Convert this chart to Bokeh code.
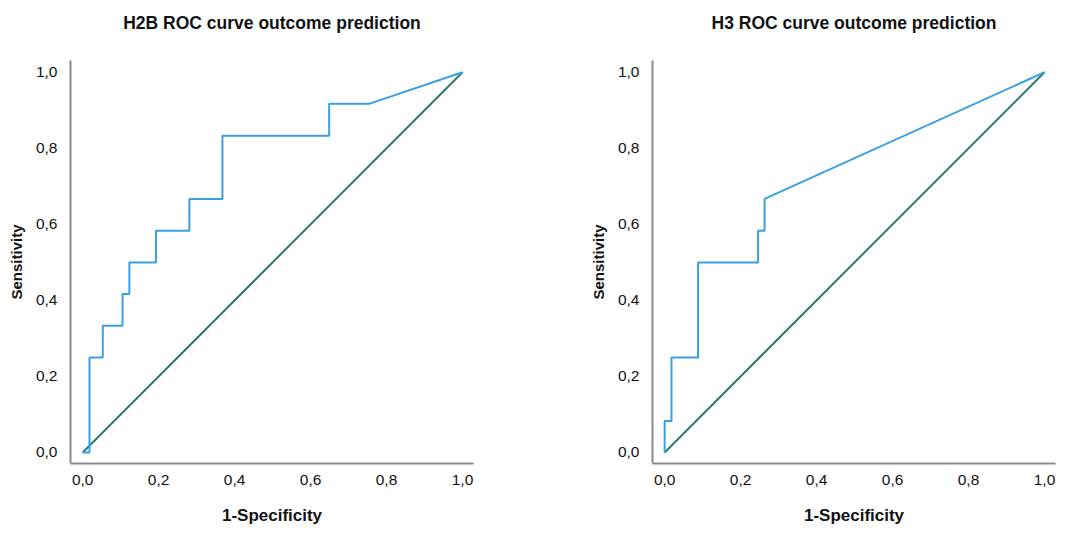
from bokeh.plotting import figure
from bokeh.layouts import row
from bokeh.models import FixedTicker, Title
from bokeh.embed import file_html
from bokeh.resources import INLINE

# H2B ROC curve (1-specificity, sensitivity)
h2b_fpr = [0.0, 0.018, 0.018, 0.053, 0.053, 0.105, 0.105, 0.123, 0.123, 0.193, 0.193,
           0.281, 0.281, 0.368, 0.368, 0.649, 0.649, 0.754, 1.0]
h2b_tpr = [0.0, 0.0, 0.25, 0.25, 0.333, 0.333, 0.417, 0.417, 0.5, 0.5, 0.583,
           0.583, 0.667, 0.667, 0.833, 0.833, 0.917, 0.917, 1.0]

# H3 ROC curve
h3_fpr = [0.0, 0.0, 0.018, 0.018, 0.088, 0.088, 0.246, 0.246, 0.263, 0.263, 1.0]
h3_tpr = [0.0, 0.083, 0.083, 0.25, 0.25, 0.5, 0.5, 0.583, 0.583, 0.667, 1.0]

ref_x = [0.0, 1.0]
ref_y = [0.0, 1.0]

tick_values = [0.0, 0.2, 0.4, 0.6, 0.8, 1.0]
tick_labels = ["0,0", "0,2", "0,4", "0,6", "0,8", "1,0"]

titles = ["H2B ROC curve outcome prediction", "H3 ROC curve outcome prediction"]

FONT = "Liberation Sans"
BLUE = "#3a9fe2"
TEAL = "#2a7a72"


def make_panel(title, fx, fy, width, border_left, border_right):
    p = figure(width=width, height=530, output_backend="svg", toolbar_location=None,
               x_range=(-0.032, 1.029), y_range=(-0.029, 1.031),
               min_border_left=border_left, min_border_right=border_right,
               min_border_top=60, min_border_bottom=67)
    p.title = Title(text=title + "\n ", align="center",
                    text_font=FONT, text_font_size="17.5px",
                    text_font_style="bold", text_color="#111111", standoff=16)
    p.line(ref_x, ref_y, line_color=TEAL, line_width=2)
    p.line(fx, fy, line_color=BLUE, line_width=2)
    p.grid.visible = False
    p.outline_line_color = None
    p.background_fill_color = "white"
    p.border_fill_color = "white"
    for ax in (p.xaxis[0], p.yaxis[0]):
        ax.ticker = FixedTicker(ticks=tick_values)
        ax.major_label_overrides = {v: l for v, l in zip(tick_values, tick_labels)}
        ax.major_tick_line_color = None
        ax.minor_tick_line_color = None
        ax.axis_line_color = "#8a8a8a"
        ax.axis_line_width = 2
        ax.major_label_text_font = FONT
        ax.major_label_text_font_size = "15.5px"
        ax.major_label_text_color = "#111111"
        ax.axis_label_text_font = FONT
        ax.axis_label_text_font_style = "bold"
        ax.axis_label_text_color = "#111111"
    p.xaxis.axis_label = "1-Specificity"
    p.xaxis.axis_label_text_font_size = "17px"
    p.xaxis.major_label_standoff = 5
    p.xaxis.axis_label_standoff = 18
    p.yaxis.axis_label = "Sensitivity"
    p.yaxis.axis_label_text_font_size = "15px"
    p.yaxis.major_label_standoff = 7
    p.yaxis.axis_label_standoff = 8
    return p


p1 = make_panel(titles[0], h2b_fpr, h2b_tpr, 526, 70, 53)
p2 = make_panel(titles[1], h3_fpr, h3_tpr, 540, 126, 11)

layout = row(p1, p2)
open("out.html", "w").write(file_html(layout, INLINE))
